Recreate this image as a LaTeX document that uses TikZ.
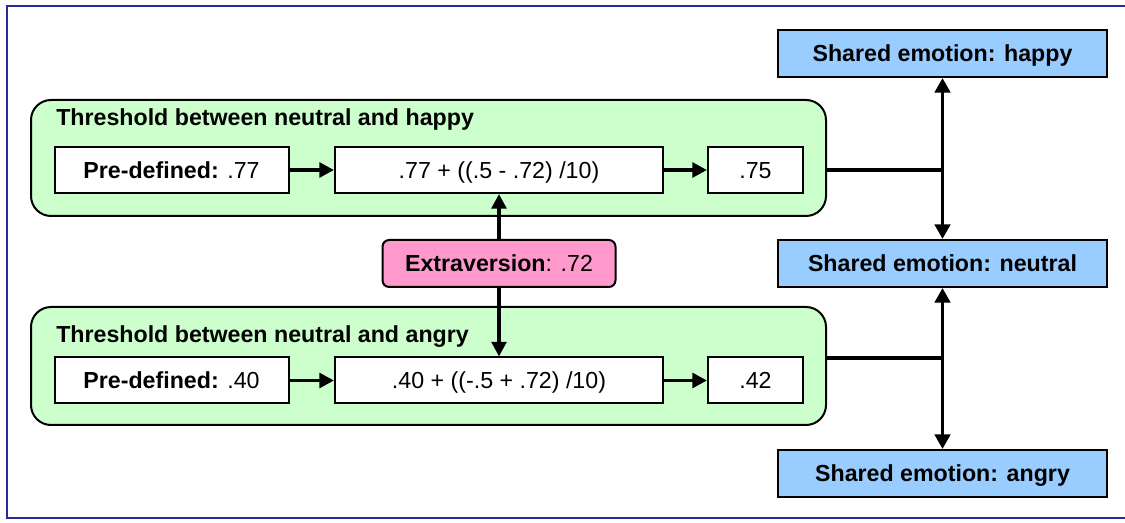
\documentclass[tikz,border=0pt]{standalone}
\usepackage{fontspec}
\setmainfont{Liberation Sans}
\usetikzlibrary{arrows.meta}

\definecolor{groupgreen}{HTML}{CCFFCC}
\definecolor{emoblue}{HTML}{99CCFF}
\definecolor{traitpink}{HTML}{FF99CC}
\definecolor{framenavy}{RGB}{40,40,160}

\newcommand{\lblfont}{\fontsize{17.4}{20}\selectfont}

\tikzset{
  every node/.style={font=\lblfont, inner sep=0pt},
  capcenter/.style={text height=12.2pt, text depth=0pt},
  group/.style={draw=black, line width=1.5pt, fill=groupgreen, rounded corners=15pt},
  valbox/.style={capcenter, draw=black, line width=1.5pt, fill=white, minimum height=34.5pt},
  emobox/.style={capcenter, draw=black, line width=1.5pt, fill=emoblue, minimum width=246.75pt, minimum height=35.25pt, font=\lblfont\bfseries},
  traitbox/.style={capcenter, draw=black, line width=1.5pt, fill=traitpink, rounded corners=5pt, minimum width=174.75pt, minimum height=35.25pt},
  flow/.style={line width=2.8pt, -{Triangle[length=11pt,width=11pt]}},
  link/.style={line width=2.8pt, {Triangle[length=11pt,width=11.5pt]}-{Triangle[length=11pt,width=11.5pt]}},
  joint/.style={line width=2.8pt}
}

\begin{document}
\begin{tikzpicture}[x=0.75pt, y=-0.75pt]
  \useasboundingbox (0,0) rectangle (1125,523);

  % outer frame (its right side runs past the page edge)
  \draw[framenavy, line width=1.5pt] (1140,6) -- (7,6) -- (7,518) -- (1140,518);

  % threshold groups
  \draw[group] (31,100) rectangle (826,216);
  \draw[group] (31,307) rectangle (826,425);
  \coordinate (g1e) at (826,170);
  \coordinate (g2e) at (826,358);

  \node[anchor=base west, font=\lblfont\bfseries] (t1) at (56,126) {Threshold between neutral and happy};
  \node[anchor=base west, font=\lblfont\bfseries] (t2) at (56,343) {Threshold between neutral and angry};

  % upper row
  \node[valbox, minimum width=175.5pt] (pre1) at (171.5,170) {\textbf{Pre-defined:} .77};
  \node[valbox, minimum width=246pt] (f1) at (499,170) {.77 + ((.5 - .72) /10)};
  \node[valbox, minimum width=71.25pt] (r1) at (755.5,170) {.75};

  % lower row
  \node[valbox, minimum width=175.5pt] (pre2) at (171.5,380.5) {\textbf{Pre-defined:} .40};
  \node[valbox, minimum width=246pt] (f2) at (499,380.5) {.40 + ((-.5 + .72) /10)};
  \node[valbox, minimum width=71.25pt] (r2) at (755.5,380.5) {.42};

  % personality trait
  \node[traitbox] (ex) at (499,263.5) {\textbf{Extraversion}: .72};

  % shared emotions
  \node[emobox] (happy) at (942.5,53.5) {Shared emotion: happy};
  \node[emobox] (neutral) at (942.5,263.5) {Shared emotion: neutral};
  \node[emobox] (angry) at (942.5,473.5) {Shared emotion: angry};

  % computation flow
  \draw[flow] (pre1) -- (f1);
  \draw[flow] (f1) -- (r1);
  \draw[flow] (pre2) -- (f2);
  \draw[flow] (f2) -- (r2);
  \draw[flow] (ex) -- (f1);
  \draw[flow] (ex) -- (f2);

  % emotion transitions
  \draw[link] (happy) -- (neutral);
  \draw[link] (neutral) -- (angry);
  \draw[joint] (g1e) -- (g1e -| happy.south);
  \draw[joint] (g2e) -- (g2e -| neutral.south);
\end{tikzpicture}
\end{document}
